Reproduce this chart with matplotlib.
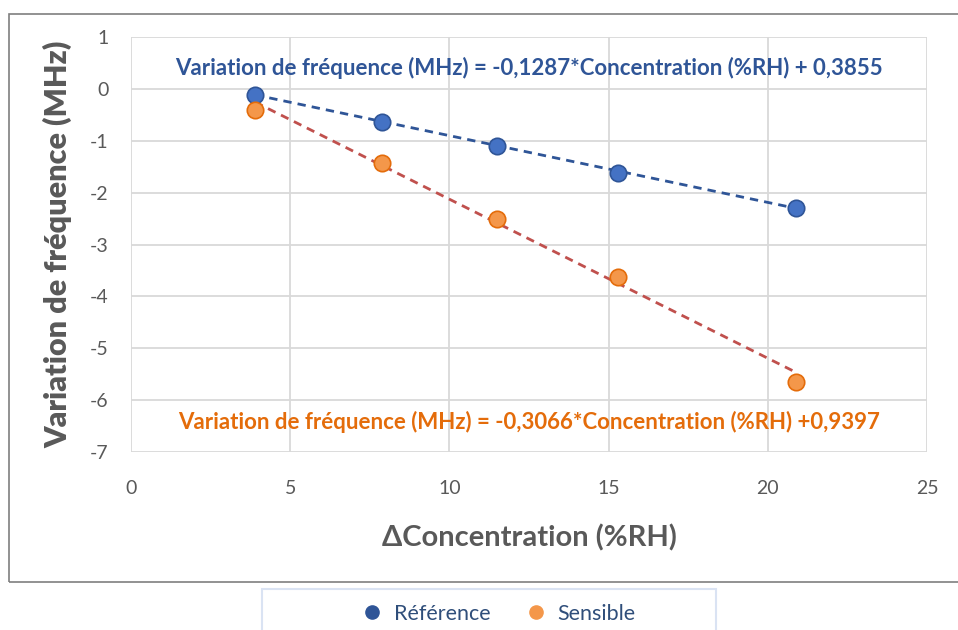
import matplotlib.pyplot as plt
from matplotlib.patches import Rectangle
from matplotlib.lines import Line2D
import numpy as np

# Données
concentration = [3.9, 7.9, 11.5, 15.3, 20.9]
reference = [-0.12, -0.64, -1.10, -1.62, -2.29]
sensible = [-0.40, -1.43, -2.50, -3.62, -5.65]

# Coefficients des courbes de tendance (affichés sur le graphique)
pente_ref, origine_ref = -0.1287, 0.3855
pente_sens, origine_sens = -0.3066, 0.9397

x_ticks = [0, 5, 10, 15, 20, 25]
y_ticks = [1, 0, -1, -2, -3, -4, -5, -6, -7]

plt.rcParams['font.family'] = ['Lato', 'DejaVu Sans']
plt.rcParams['axes.unicode_minus'] = False

bleu = '#4472C4'
bleu_bord = '#2F5597'
orange = '#F4974A'
orange_bord = '#E46C0A'
rouge = '#C0504D'
gris = '#595959'

fig = plt.figure(figsize=(9.58, 6.3), dpi=100)
ax = fig.add_axes([0.1367, 0.2825, 0.9676 - 0.1367, 0.9413 - 0.2825])

# Courbes de tendance
xs = np.array([concentration[0], concentration[-1]])
ax.plot(xs, pente_ref * xs + origine_ref, ls=(0, (3, 2.2)), color='#2F5597', lw=2, zorder=3)
ax.plot(xs, pente_sens * xs + origine_sens, ls=(0, (3, 2.2)), color=rouge, lw=2, zorder=3)

# Points
ax.scatter(concentration, reference, s=140, color=bleu, edgecolors=bleu_bord, linewidths=1.2, zorder=4)
ax.scatter(concentration, sensible, s=140, color=orange, edgecolors=orange_bord, linewidths=1.2, zorder=4)

ax.set_xlim(0, 25)
ax.set_ylim(-7, 1)
ax.set_xticks(x_ticks)
ax.set_yticks(y_ticks)
ax.grid(True, color='#D9D9D9', lw=1.3)
ax.set_axisbelow(True)
for s in ax.spines.values():
    s.set_visible(False)
ax.tick_params(length=0, labelsize=14, labelcolor=gris)
ax.tick_params(axis='x', pad=20)
ax.tick_params(axis='y', pad=16)

ax.set_xlabel('ΔConcentration (%RH)', fontsize=21, fontweight='bold', color=gris, labelpad=20)
ax.set_ylabel('Variation de fréquence (MHz)', fontsize=22, fontweight='heavy', color=gris, labelpad=13)

ax.text(12.5, 0.4, 'Variation de fréquence (MHz) = -0,1287*Concentration (%RH) + 0,3855',
        ha='center', va='center', fontsize=16, fontweight='bold', color='#2F5597')
ax.text(12.5, -6.43, 'Variation de fréquence (MHz) = -0,3066*Concentration (%RH) +0,9397',
        ha='center', va='center', fontsize=16, fontweight='bold', color='#E46C0A')

# Cadre du graphique
W, H = 958, 630
fig.patches.append(Rectangle((9 / W, 1 - 582 / H), 1.2, (582 - 14) / H,
                             transform=fig.transFigure, fill=False, edgecolor='#7F7F7F', lw=1.2))
# Cadre de la légende
fig.patches.append(Rectangle((262 / W, 1 - 650 / H), (716 - 262) / W, (650 - 589) / H,
                             transform=fig.transFigure, fill=False, edgecolor='#DAE3F3', lw=1.5))

poignees = [Line2D([], [], ls='', marker='o', markersize=9.5, color='#2F5597', label='Référence'),
            Line2D([], [], ls='', marker='o', markersize=9.5, color=orange, label='Sensible')]
fig.legend(handles=poignees, loc='center', bbox_to_anchor=(493 / W, 1 - 614 / H), ncol=2,
           frameon=False, fontsize=15.5, handletextpad=0.0, columnspacing=1.1, labelcolor='#2F4E7A')

fig.savefig('out.png', dpi=100)
